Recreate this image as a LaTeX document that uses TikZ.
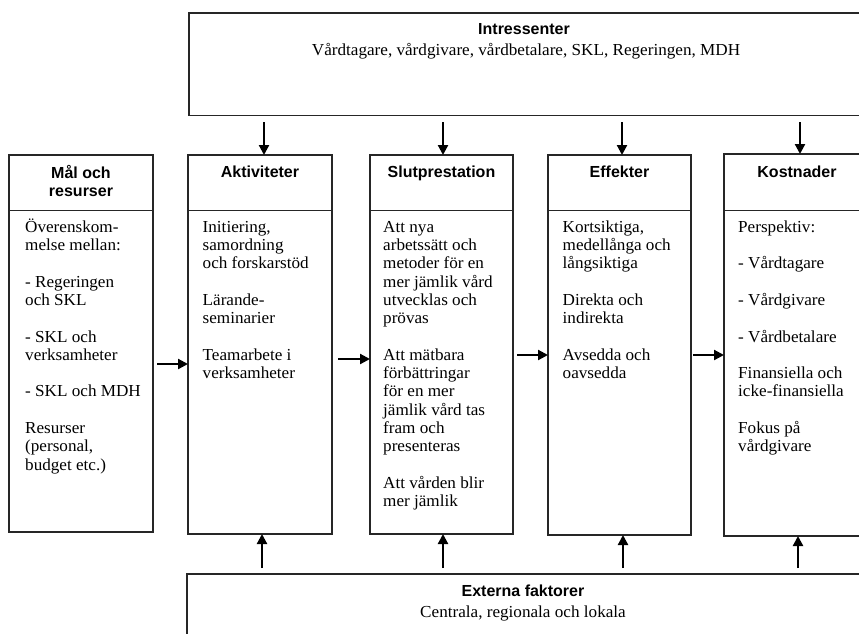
\documentclass[tikz,border=0pt]{standalone}
\usepackage{fontspec}
\setmainfont{Liberation Serif}[FakeStretch=1.02]
\newfontfamily\headfont{Liberation Sans}
\usetikzlibrary{arrows.meta}
\begin{document}
\begin{tikzpicture}[x=1pt,y=-1pt,
  boxline/.style={draw=black!85, line width=1.3pt},
  box/.style={boxline, inner sep=0pt, outer sep=0pt, anchor=north west},
  arr/.style={line width=2.2pt, -{Triangle[width=10pt,length=10pt]}},
  head/.style={font=\headfont\bfseries\fontsize{16}{18.3}\selectfont, align=center, inner sep=0pt},
  body/.style={font=\fontsize{16.8}{18.3}\selectfont, align=left, inner sep=0pt, anchor=north west},
  sub/.style={font=\fontsize{16.8}{18.3}\selectfont, inner sep=0pt, anchor=base}]
\useasboundingbox (0,0) rectangle (859,633);
\clip (0,0) rectangle (859,633);
\fill[white] (0,0) rectangle (859,633);

% boxes
\node[box, minimum width=692pt, minimum height=102.7pt] (intr) at (189,13) {};
\node[box, minimum width=144pt, minimum height=377pt] (mal) at (9,155) {};
\node[box, minimum width=144pt, minimum height=379pt] (akt) at (188,155) {};
\node[box, minimum width=143pt, minimum height=379pt] (slut) at (370,155) {};
\node[box, minimum width=143pt, minimum height=380pt] (eff) at (548,155) {};
\node[box, minimum width=146pt, minimum height=382pt] (kost) at (724,154) {};
\node[box, minimum width=700pt, minimum height=100pt] (ext) at (187,574) {};

% header dividers
\coordinate (dv) at (0,210.5);
\foreach \b in {mal,akt,slut,eff,kost}
  \draw[boxline] (\b.west |- dv) -- (\b.east |- dv);

% headings
\node[head, anchor=base] (hintr) at (524,34.5) {Intressenter};
\node[sub] (tintr) at (526,55.5) {Vårdtagare, vårdgivare, vårdbetalare, SKL, Regeringen, MDH};
\node[head, anchor=north] (hmal) at (81,162) {\rule{0pt}{16pt}Mål och\\resurser};
\node[head, anchor=base] (hakt) at (260,177.5) {Aktiviteter};
\node[head, anchor=base] (hslut) at (441.5,177.5) {Slutprestation};
\node[head, anchor=base] (heff) at (619.5,177.5) {Effekter};
\node[head, anchor=base] (hkost) at (797,177.5) {Kostnader};
\node[head, anchor=base] (hext) at (523,596) {Externa faktorer};
\node[sub] (text) at (523,617.5) {Centrala, regionala och lokala};

% body texts
\node[body] (bmal) at (25,216) {\rule{0pt}{16pt}Överenskom-\\melse mellan:\\[18.3pt]- Regeringen\\och SKL\\[18.3pt]- SKL och\\verksamheter\\[18.3pt]- SKL och MDH\\[18.3pt]Resurser\\(personal,\\budget etc.)};
\node[body] (bakt) at (202.5,216) {\rule{0pt}{16pt}Initiering,\\samordning\\och forskarstöd\\[18.3pt]Lärande-\\seminarier\\[18.3pt]Teamarbete i\\verksamheter};
\node[body] (bslut) at (383,216) {\rule{0pt}{16pt}Att nya\\arbetssätt och\\metoder för en\\mer jämlik vård\\utvecklas och\\prövas\\[18.3pt]Att mätbara\\förbättringar\\för en mer\\jämlik vård tas\\fram och\\presenteras\\[18.3pt]Att vården blir\\mer jämlik};
\node[body] (beff) at (562.5,216) {\rule{0pt}{16pt}Kortsiktiga,\\medellånga och\\långsiktiga\\[18.3pt]Direkta och\\indirekta\\[18.3pt]Avsedda och\\oavsedda};
\node[body] (bkost) at (738,216) {\rule{0pt}{16pt}Perspektiv:\\[18.3pt]- Vårdtagare\\[18.3pt]- Vårdgivare\\[18.3pt]- Vårdbetalare\\[18.3pt]Finansiella och\\icke-finansiella\\[18.3pt]Fokus på\\vårdgivare};

% arrow positions
\coordinate (d1) at (264,0);
\coordinate (d2) at (443,0);
\coordinate (d3) at (622,0);
\coordinate (d4) at (800,0);
\coordinate (u1) at (262,0);
\coordinate (u2) at (443,0);
\coordinate (u3) at (623,0);
\coordinate (u4) at (798,0);
\coordinate (h1) at (0,364);
\coordinate (h2) at (0,359);
\coordinate (h3) at (0,355);
\coordinate (h4) at (0,355);

% down arrows
\draw[arr, shorten <=6.5pt] (intr.south -| d1) -- (akt.north -| d1);
\draw[arr, shorten <=6.5pt] (intr.south -| d2) -- (slut.north -| d2);
\draw[arr, shorten <=6.5pt] (intr.south -| d3) -- (eff.north -| d3);
\draw[arr, shorten <=6.5pt] (intr.south -| d4) -- (kost.north -| d4);
% up arrows
\draw[arr, shorten <=6pt] (ext.north -| u1) -- (akt.south -| u1);
\draw[arr, shorten <=6pt] (ext.north -| u2) -- (slut.south -| u2);
\draw[arr, shorten <=6pt] (ext.north -| u3) -- (eff.south -| u3);
\draw[arr, shorten <=6pt] (ext.north -| u4) -- (kost.south -| u4);
% horizontal arrows
\draw[arr, shorten <=4pt] (mal.east |- h1) -- (akt.west |- h1);
\draw[arr, shorten <=6pt] (akt.east |- h2) -- (slut.west |- h2);
\draw[arr, shorten <=4pt] (slut.east |- h3) -- (eff.west |- h3);
\draw[arr, shorten <=2pt] (eff.east |- h4) -- (kost.west |- h4);
\end{tikzpicture}
\end{document}
